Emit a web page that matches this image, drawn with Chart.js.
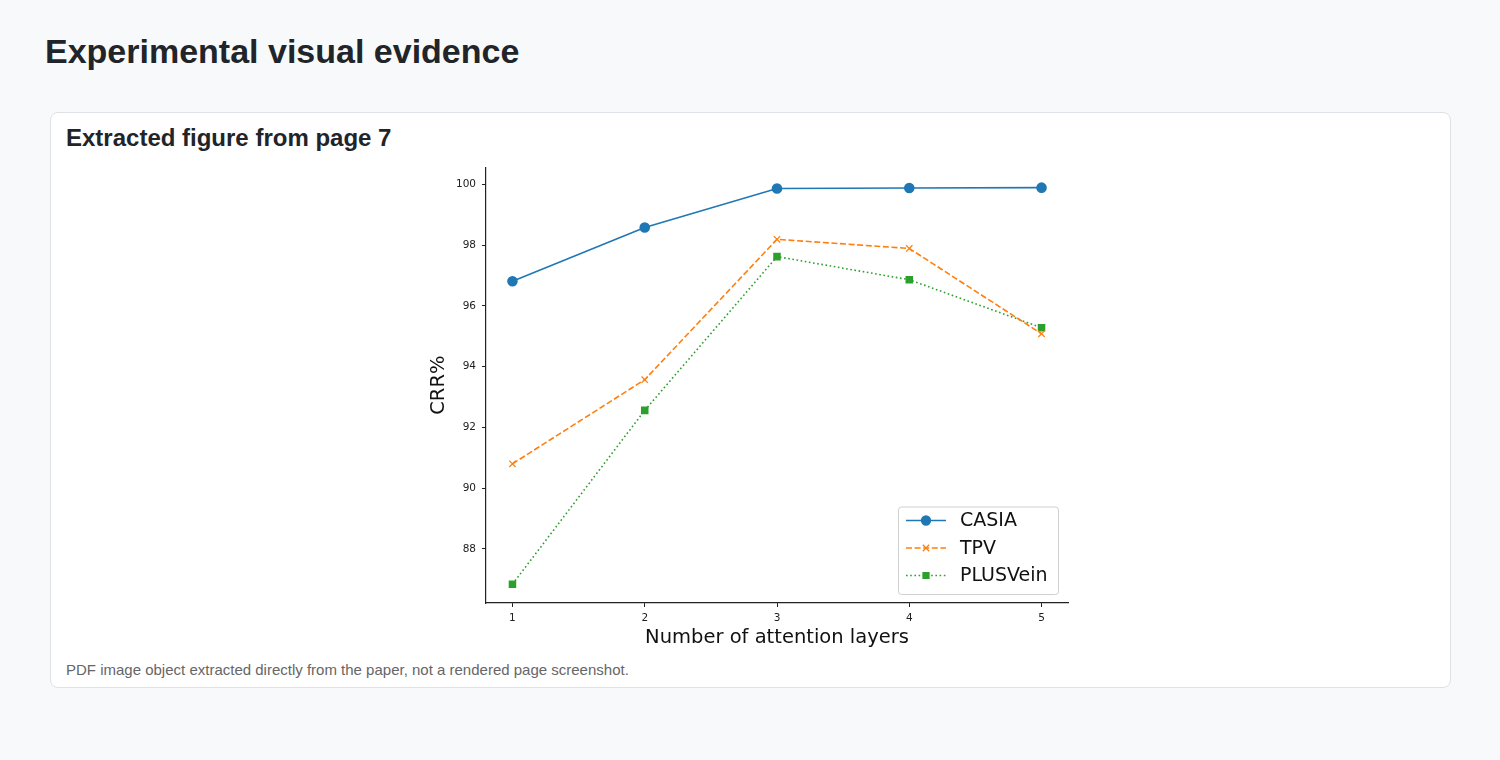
<!DOCTYPE html>
<html>
<head>
<meta charset="utf-8">
<script src="https://cdn.jsdelivr.net/npm/chart.js@4/dist/chart.umd.min.js"></script>
<style>
  html, body { margin: 0; padding: 0; }
  body {
    width: 1500px; height: 760px; background: #f8f9fa;
    font-family: "Liberation Sans", Arial, sans-serif; color: #212529;
    position: relative; overflow: hidden;
  }
  h1 { position: absolute; left: 45px; top: 32px; margin: 0; font-size: 34px; font-weight: bold; }
  .card {
    position: absolute; left: 50px; top: 112px; width: 1399px; height: 574px;
    background: #fff; border: 1px solid #dee2e6; border-radius: 8px;
  }
  .card h2 { position: absolute; left: 15px; top: 11px; margin: 0; font-size: 24px; font-weight: bold; }
  .card .cap { position: absolute; left: 15px; top: 548px; font-size: 15px; color: #666; }
  .plot { position: absolute; left: 350px; top: 42px; width: 680px; height: 495px; }
</style>
</head>
<body>
<h1>Experimental visual evidence</h1>
<div class="card">
  <h2>Extracted figure from page 7</h2>
  <div class="plot"><canvas id="crr-chart" width="680" height="495"></canvas></div>
  <div class="cap">PDF image object extracted directly from the paper, not a rendered page screenshot.</div>
</div>
<script>
// 어텐션 레이어 수에 따른 CRR%
var layers = [1, 2, 3, 4, 5];
var casia = [96.81, 98.58, 99.86, 99.88, 99.89];
var tpv = [90.80, 93.57, 98.19, 97.89, 95.08];
var plusvein = [86.84, 92.56, 97.62, 96.86, 95.28];
var yTicks = [88, 90, 92, 94, 96, 98, 100];
var xTicks = [1, 2, 3, 4, 5];

var FONT = '"DejaVu Sans", sans-serif';

function toPoints(vals) {
  return vals.map(function (v, i) { return { x: layers[i], y: v }; });
}

// 그림 안쪽 오른쪽 아래에 matplotlib 스타일 범례를 그린다
var insideLegend = {
  id: 'insideLegend',
  afterDraw: function (chart) {
    var ctx = chart.ctx;
    var area = chart.chartArea;
    var sets = chart.data.datasets;
    var boxW = 160, rowH = 27.5, boxH = sets.length * rowH + 5;
    var bx = area.right - 10 - boxW, by = area.bottom - 9 - boxH;
    ctx.save();
    ctx.fillStyle = 'rgba(255,255,255,0.85)';
    ctx.strokeStyle = '#d0d0d0';
    ctx.lineWidth = 1;
    ctx.beginPath();
    ctx.roundRect(bx + 0.5, by + 0.5, boxW, boxH, 3);
    ctx.fill();
    ctx.stroke();
    sets.forEach(function (ds, i) {
      var cy = by + 14 + i * rowH;
      ctx.strokeStyle = ds.borderColor;
      ctx.lineWidth = ds.borderWidth;
      ctx.setLineDash(ds.borderDash || []);
      ctx.beginPath();
      ctx.moveTo(bx + 8, cy);
      ctx.lineTo(bx + 48, cy);
      ctx.stroke();
      ctx.setLineDash([]);
      ctx.fillStyle = ds.backgroundColor;
      ctx.lineWidth = 1.3;
      Chart.helpers.drawPoint(ctx, {
        pointStyle: ds.pointStyle, radius: ds.pointRadius, borderWidth: 1.3, rotation: 0
      }, bx + 28, cy);
      ctx.fillStyle = '#111';
      ctx.font = '19px ' + FONT;
      ctx.textBaseline = 'middle';
      ctx.fillText(ds.label, bx + 62, cy + 1);
    });
    ctx.restore();
  }
};

var axisStyle = {
  border: { display: true, color: '#222', width: 1.2 },
  grid: { drawOnChartArea: false, color: '#222', tickLength: 4, tickWidth: 1 },
  ticks: { color: '#222', font: { family: FONT, size: 10.5 }, padding: 5 }
};

new Chart(document.getElementById('crr-chart'), {
  type: 'line',
  data: {
    datasets: [{
      label: 'CASIA',
      data: toPoints(casia),
      borderColor: '#1f77b4', backgroundColor: '#1f77b4',
      borderWidth: 1.6, pointStyle: 'circle', pointRadius: 4.5
    }, {
      label: 'TPV',
      data: toPoints(tpv),
      borderColor: '#ff7f0e', backgroundColor: '#ff7f0e',
      borderWidth: 1.6, borderDash: [6, 2.6], pointStyle: 'crossRot', pointRadius: 4.5,
      pointBorderWidth: 1.2
    }, {
      label: 'PLUSVein',
      data: toPoints(plusvein),
      borderColor: '#2ca02c', backgroundColor: '#2ca02c',
      borderWidth: 1.6, borderDash: [1.6, 2.6], pointStyle: 'rect', pointRadius: 4.2
    }]
  },
  options: {
    responsive: false,
    animation: false,
    layout: { padding: { left: 0, right: 13, top: 2, bottom: 0 } },
    plugins: { legend: { display: false }, tooltip: { enabled: false } },
    elements: { line: { tension: 0 }, point: { borderWidth: 1 } },
    scales: {
      x: {
        type: 'linear', min: 0.8, max: 5.2,
        border: axisStyle.border, grid: axisStyle.grid, ticks: axisStyle.ticks,
        title: { display: true, text: 'Number of attention layers', color: '#111',
                 font: { family: FONT, size: 19.5 }, padding: { top: 0, bottom: 0 } },
        afterBuildTicks: function (s) { s.ticks = xTicks.map(function (v) { return { value: v }; }); },
        afterFit: function (s) { s.height = 47; }
      },
      y: {
        type: 'linear', min: 86.22, max: 100.56,
        border: axisStyle.border, grid: axisStyle.grid,
        ticks: { color: '#222', font: { family: FONT, size: 10.5 }, padding: 6 },
        title: { display: true, text: 'CRR%', color: '#111',
                 font: { family: FONT, size: 19.5 }, padding: { top: 26, bottom: 0 } },
        afterBuildTicks: function (s) { s.ticks = yTicks.map(function (v) { return { value: v }; }); },
        afterFit: function (s) { s.width = 85; }
      }
    }
  },
  plugins: [insideLegend]
});
</script>
</body>
</html>
